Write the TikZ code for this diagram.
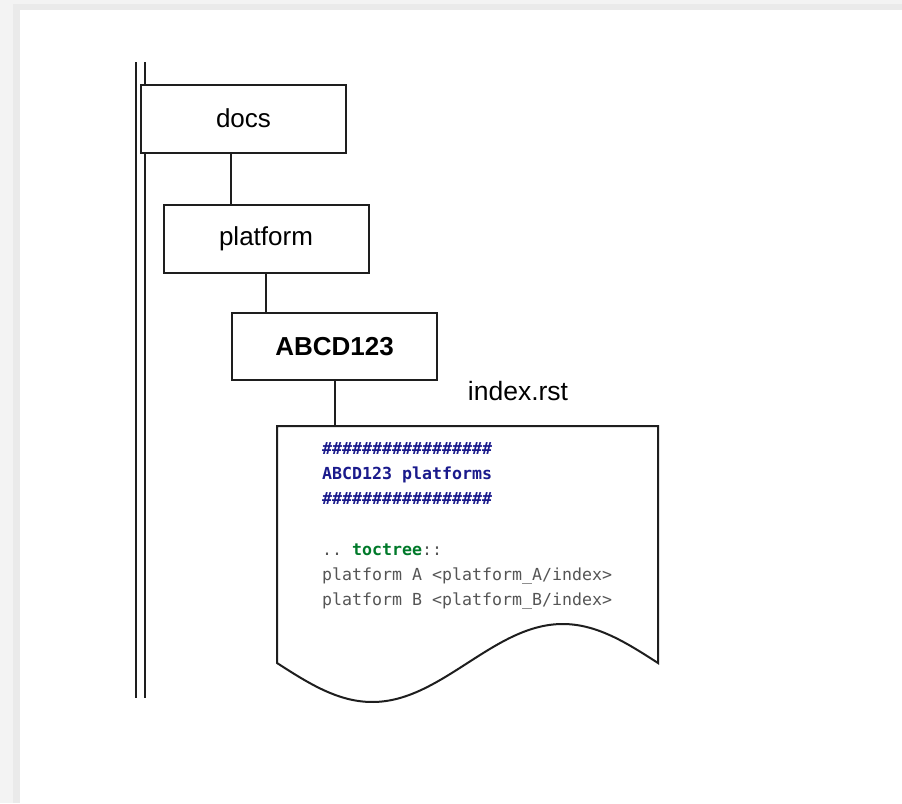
\documentclass[tikz,border=0pt]{standalone}
\usepackage{fontspec}
\setmainfont{Liberation Sans}
\newfontfamily\codefont{DejaVu Sans Mono}
\definecolor{pagegray}{HTML}{F3F3F3}
\definecolor{shadegray}{HTML}{EAEAEA}
\definecolor{linecol}{HTML}{1E1E1E}
\definecolor{navycode}{HTML}{1A1A8C}
\definecolor{greencode}{HTML}{007A2A}
\definecolor{graycode}{HTML}{555555}
\tikzset{
  folder/.style={draw=linecol, line width=2pt, fill=white, minimum width=205pt, minimum height=68pt, inner sep=0pt, font=\fontsize{26}{30}\selectfont},
  link/.style={draw=linecol, line width=2pt},
  codeline/.style={anchor=base west, inner sep=0pt, font=\codefont\fontsize{16.6}{20}\selectfont},
  label/.style={inner sep=0pt, font=\fontsize{26.5}{30}\selectfont}
}
\begin{document}
\begin{tikzpicture}[x=1pt,y=-1pt]
\useasboundingbox (0,0) rectangle (902,803);
% page background
\fill[pagegray] (0,0) rectangle (902,803);
\fill[shadegray] (13,4) rectangle (902,803);
\fill[white] (20,10) rectangle (902,803);
% trunk double line
\draw[link] (136,62) -- (136,698);
\draw[link] (145,62) -- (145,698);
% folder nodes
\node[folder] (docs) at (243.5,118.5) {docs};
\node[folder] (platform) at (266,239) {platform};
\node[folder, minimum height=67pt] (abcd) at (334.5,346.5) {\bfseries ABCD123};
% document shape
\coordinate (doctop) at (334.5,426);
\draw[link, fill=white, line join=miter]
  (277,426) -- (658,426) -- (658,663)
  -- plot[domain=0:381, samples=80, smooth] ({658-\x}, {663-39*sin(0.944882*\x)})
  -- cycle;
% connectors
\coordinate (docsout) at ([xshift=91pt]docs.south west);
\draw[link] (docsout) -- (docsout |- platform.north);
\draw[link] (platform.south) -- (platform.south |- abcd.north);
\draw[link] (abcd.south) -- (doctop);
% file label
\node[label] (fname) at (518,391) {index.rst};
% code text
\node[codeline, text=navycode] (l1) at (322,454) {\bfseries \#\#\#\#\#\#\#\#\#\#\#\#\#\#\#\#\#};
\node[codeline, text=navycode] (l2) at (322,479.3) {\bfseries ABCD123 platforms};
\node[codeline, text=navycode] (l3) at (322,504.6) {\bfseries \#\#\#\#\#\#\#\#\#\#\#\#\#\#\#\#\#};
\node[codeline, text=graycode] (l4) at (322,555.2) {..\ \textcolor{greencode}{\bfseries toctree}::};
\node[codeline, text=graycode] (l5) at (322,580.5) {platform A <platform\_A/index>};
\node[codeline, text=graycode] (l6) at (322,605.8) {platform B <platform\_B/index>};
\end{tikzpicture}
\end{document}
